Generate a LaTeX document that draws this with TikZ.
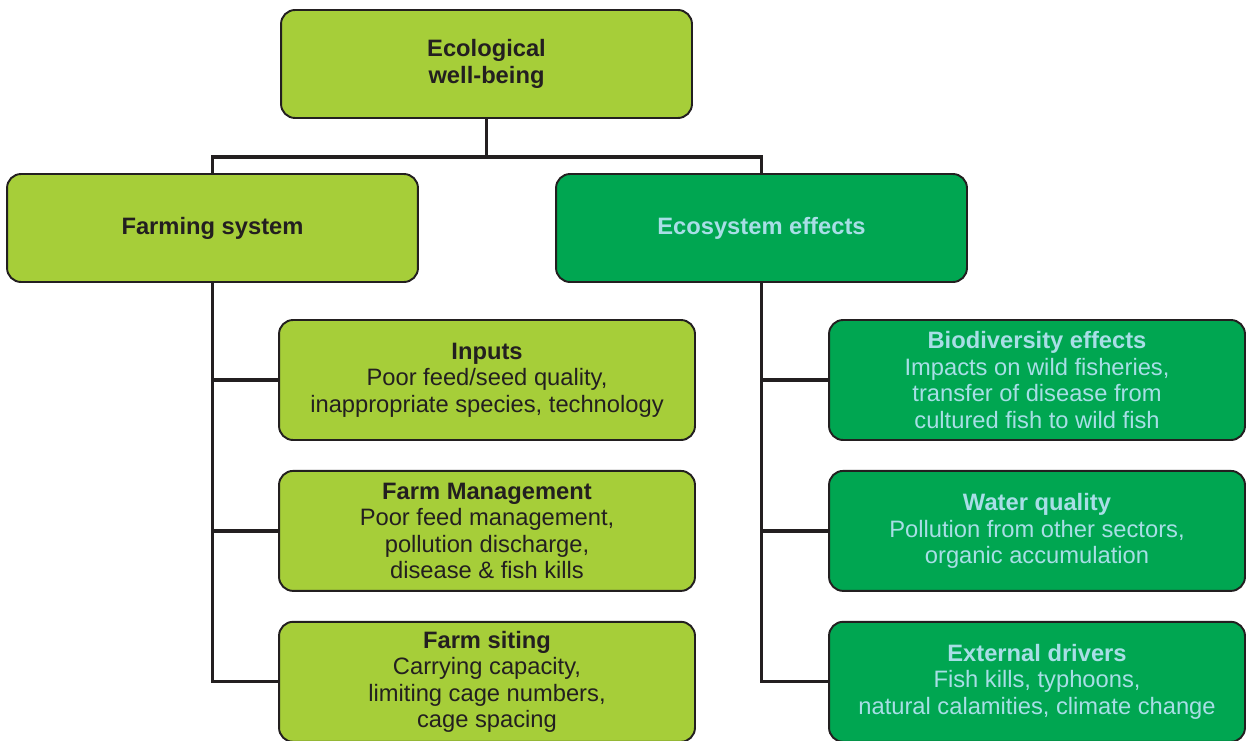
\documentclass[tikz,border=0pt]{standalone}
\usepackage{fontspec}
\setmainfont{Liberation Sans}
\usetikzlibrary{positioning}
\definecolor{limegreen}{HTML}{A6CE39}
\definecolor{leafgreen}{HTML}{00A651}
\definecolor{paleblue}{HTML}{A8DEE6}
\definecolor{inkgray}{HTML}{231F20}

\begin{document}
\begin{tikzpicture}[x=0.02cm,y=-0.02cm,node distance=0.58cm,
  head/.style={draw=inkgray,line width=1.1pt,rounded corners=8pt,align=center,
    minimum width=8.22cm,minimum height=2.16cm,font=\fontsize{13.5}{15}\selectfont\bfseries},
  sub/.style={draw=inkgray,line width=1.1pt,rounded corners=8pt,align=center,
    minimum width=8.32cm,minimum height=2.4cm,font=\fontsize{13.5}{15}\selectfont},
  lime/.style={fill=limegreen,text=inkgray},
  leaf/.style={fill=leafgreen,text=paleblue},
  link/.style={draw=inkgray,line width=1.9pt}]
\useasboundingbox (0,0) rectangle (1250,740);

% top level
\node[head,lime] (eco) at (486.5,64) {Ecological\\well-being};
\node[head,lime] (farm) at (212.5,228) {Farming system};
\node[head,leaf] (effects) at (761.5,228) {Ecosystem effects};

% farming system branch
\node[sub,lime] (inputs) at (487,380) {\textbf{Inputs}\\Poor feed/seed quality,\\inappropriate species, technology};
\node[sub,lime,below=of inputs] (mgmt) {\textbf{Farm Management}\\Poor feed management,\\pollution discharge,\\disease \& fish kills};
\node[sub,lime,below=of mgmt] (siting) {\textbf{Farm siting}\\Carrying capacity,\\limiting cage numbers,\\cage spacing};

% ecosystem effects branch
\node[sub,leaf] (biodiv) at (1037,380) {\textbf{Biodiversity effects}\\Impacts on wild fisheries,\\transfer of disease from\\cultured fish to wild fish};
\node[sub,leaf,below=of biodiv] (water) {\textbf{Water quality}\\Pollution from other sectors,\\organic accumulation};
\node[sub,leaf,below=of water] (drivers) {\textbf{External drivers}\\Fish kills, typhoons,\\natural calamities, climate change};

% connectors
\coordinate (split) at (486.5,157);
\draw[link] (eco.south) -- (split);
\draw[link] (split) -| (farm.north);
\draw[link] (split) -| (effects.north);
\draw[link] (farm.south) |- (inputs.west);
\draw[link] (farm.south) |- (mgmt.west);
\draw[link] (farm.south) |- (siting.west);
\draw[link] (effects.south) |- (biodiv.west);
\draw[link] (effects.south) |- (water.west);
\draw[link] (effects.south) |- (drivers.west);
\end{tikzpicture}
\end{document}
